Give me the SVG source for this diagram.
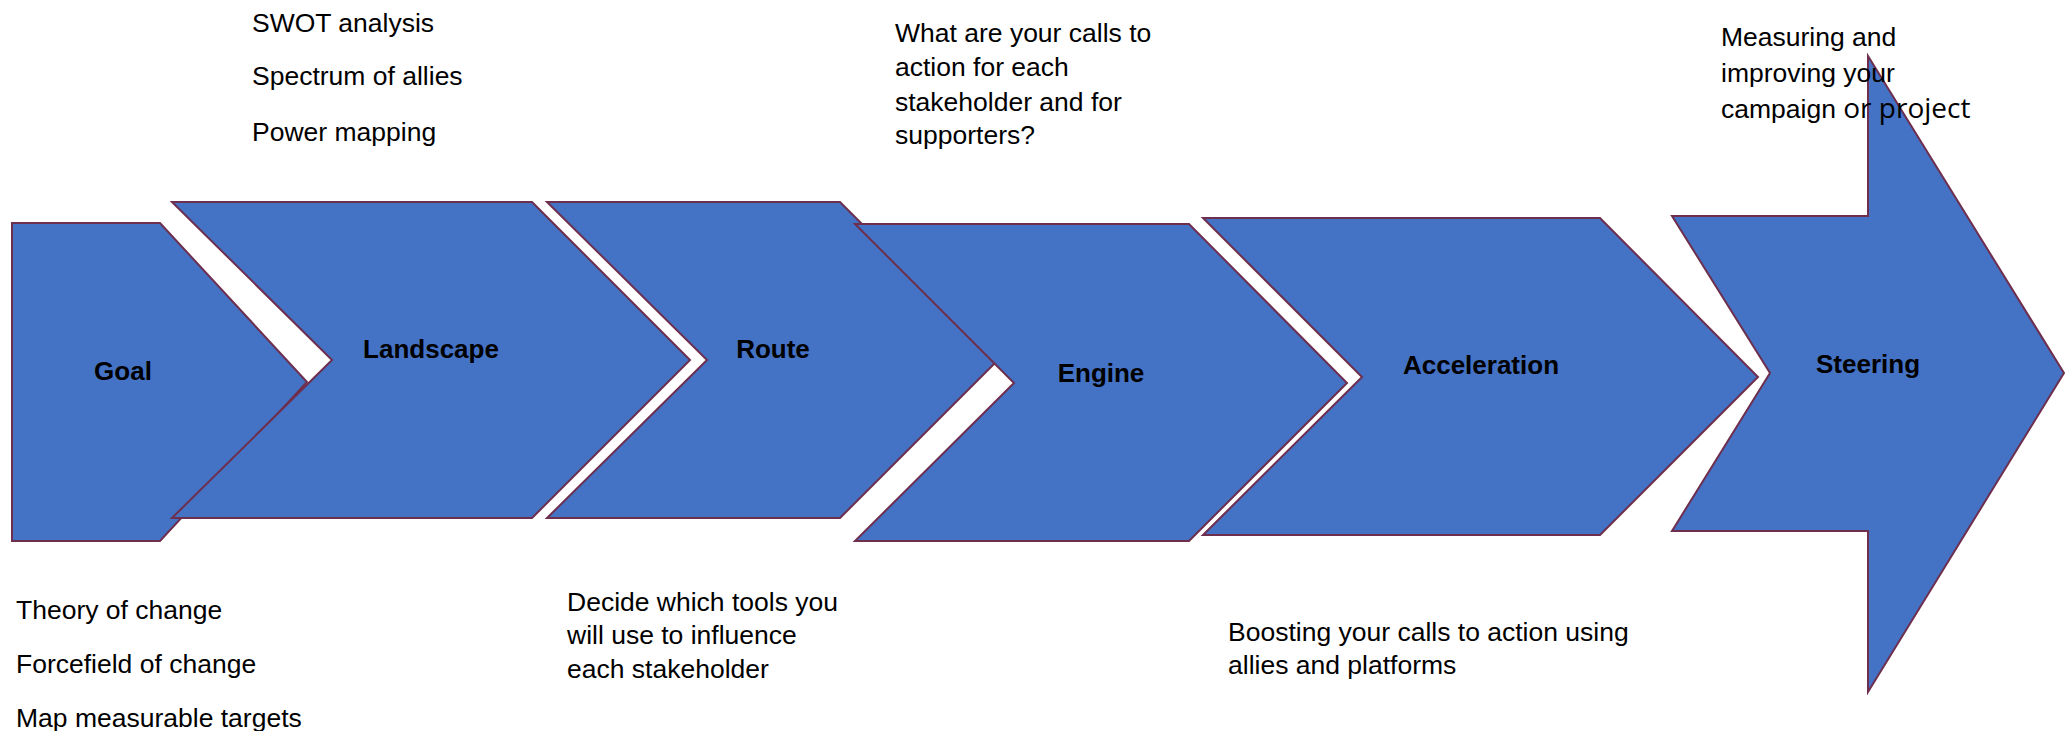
<svg xmlns="http://www.w3.org/2000/svg" width="2069" height="731" viewBox="0 0 2069 731">
<style>
.shape{fill:#4472C4;stroke:#6E2F4E;stroke-width:2;stroke-linejoin:miter}
.lbl{font-family:"Liberation Sans",Arial,sans-serif;font-weight:bold;font-size:26px;fill:#000;text-anchor:middle}
.note{font-family:"Liberation Sans",Arial,sans-serif;font-size:26.5px;fill:#000}
.alt{font-family:"Open Sans","Noto Sans",sans-serif;font-size:28px}
</style>
<rect width="2069" height="731" fill="#fff"/>
<g id="goal">
<polygon class="shape" points="12,223 160,223 307,382 160,541 12,541"/>
<text class="lbl" x="123" y="380">Goal</text>
</g>
<g id="landscape">
<polygon class="shape" points="172,202 532,202 690,360 532,518 172,518 332,360"/>
<text class="lbl" x="431" y="358">Landscape</text>
</g>
<g id="route">
<polygon class="shape" points="547,202 840,202 998,360 840,518 547,518 707,360"/>
<text class="lbl" x="773" y="358">Route</text>
</g>
<g id="engine">
<polygon class="shape" points="855,224 1189,224 1347,383 1189,541 855,541 1014,383"/>
<text class="lbl" x="1101" y="382">Engine</text>
</g>
<g id="acceleration">
<polygon class="shape" points="1203,218 1600,218 1758,377 1600,535 1203,535 1362,377"/>
<text class="lbl" x="1481" y="374">Acceleration</text>
</g>
<g id="steering">
<polygon class="shape" points="1672,216 1868,216 1868,56 2064,373 1868,692 1868,531 1672,531 1770,373"/>
<text class="lbl" x="1868" y="373">Steering</text>
</g>
<g id="connectors"></g>
<g id="notes">
<text class="note" x="252" y="32">SWOT analysis</text>
<text class="note" x="252" y="85">Spectrum of allies</text>
<text class="note" x="252" y="141">Power mapping</text>
<text class="note" x="16" y="619">Theory of change</text>
<text class="note" x="16" y="673">Forcefield of change</text>
<text class="note" x="16" y="727">Map measurable targets</text>
<text class="note" x="567" y="611">Decide which tools you</text>
<text class="note" x="567" y="644">will use to influence</text>
<text class="note" x="567" y="678">each stakeholder</text>
<text class="note" x="895" y="42">What are your calls to</text>
<text class="note" x="895" y="76">action for each</text>
<text class="note" x="895" y="111">stakeholder and for</text>
<text class="note" x="895" y="144">supporters?</text>
<text class="note" x="1228" y="641">Boosting your calls to action using</text>
<text class="note" x="1228" y="674">allies and platforms</text>
<text class="note" x="1721" y="46">Measuring and</text>
<text class="note" x="1721" y="82">improving your</text>
<text class="note" x="1721" y="118">campaign <tspan class="alt">or project</tspan></text>
</g>
</svg>
